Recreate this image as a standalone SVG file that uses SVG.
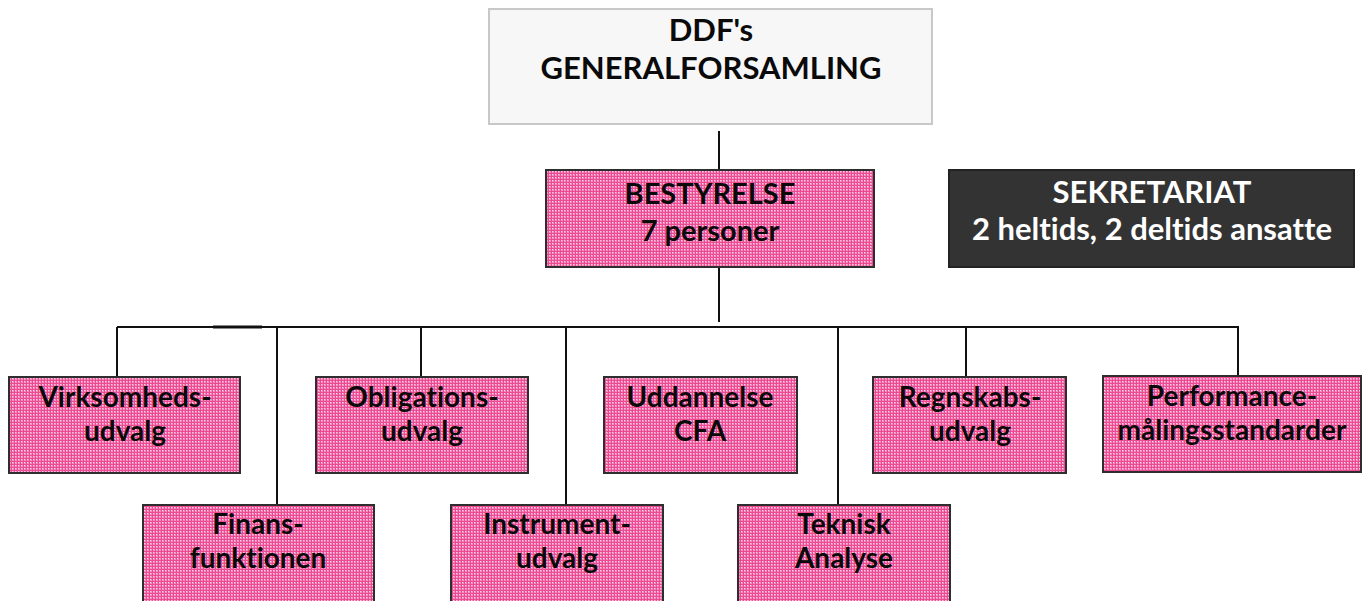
<svg xmlns="http://www.w3.org/2000/svg" width="1367" height="601" viewBox="0 0 1367 601">
<defs>
<pattern id="dither" width="3" height="3" patternUnits="userSpaceOnUse">
<rect width="3" height="3" fill="#ec4a93"/>
<rect x="0" y="0" width="2" height="2" fill="#f58fbd"/>
<rect x="0" y="0" width="1" height="1" fill="#ffd0e5"/>
</pattern>
</defs>
<style>
.pink{fill:url(#dither);stroke:#2e2e2e;stroke-width:2}
.t{font-family:Lato,"Open Sans","Liberation Sans",sans-serif;font-weight:bold;font-size:28px;fill:#0a0a0a;text-anchor:middle;font-variant-ligatures:none}
.h{font-size:31px}
.b{font-size:29px}
.w{fill:#fff}
.c{stroke:#111;stroke-width:2;fill:none}
</style>
<g id="connectors">
<line class="c" x1="719" y1="131" x2="719" y2="170"/>
<line class="c" x1="719" y1="268" x2="719" y2="322"/>
<line class="c" x1="117" y1="327" x2="1239" y2="327"/>
<line x1="213" y1="327" x2="262" y2="327" stroke="#111" stroke-width="3"/>
<line class="c" x1="117" y1="327" x2="117" y2="377"/>
<line class="c" x1="277" y1="327" x2="277" y2="505"/>
<line class="c" x1="421" y1="327" x2="421" y2="377"/>
<line class="c" x1="566" y1="327" x2="566" y2="505"/>
<line class="c" x1="838" y1="327" x2="838" y2="505"/>
<line class="c" x1="966" y1="327" x2="966" y2="377"/>
<line class="c" x1="1238" y1="327" x2="1238" y2="376"/>
</g>
<g id="generalforsamling">
<rect x="489" y="9" width="443" height="115" fill="#f7f7f7" stroke="#c8c8c8" stroke-width="2"/>
<text class="t h" x="711" y="41">DDF's</text>
<text class="t h" x="711" y="79">GENERALFORSAMLING</text>
</g>
<g id="bestyrelse">
<rect class="pink" x="546" y="170" width="328" height="97" stroke="#444" stroke-width="3"/>
<text class="t b" x="710" y="204">BESTYRELSE</text>
<text class="t b" x="710" y="241">7 personer</text>
</g>
<g id="sekretariat">
<rect x="949" y="170" width="405" height="97" fill="#333" stroke="#222" stroke-width="2"/>
<text class="t h w" x="1152" y="203">SEKRETARIAT</text>
<text class="t h w" x="1152" y="240">2 heltids, 2 deltids ansatte</text>
</g>
<g id="virksomhedsudvalg">
<rect class="pink" x="9" y="377" width="231" height="96"/>
<text class="t" x="125" y="407">Virksomheds-</text>
<text class="t" x="125" y="441">udvalg</text>
</g>
<g id="obligationsudvalg">
<rect class="pink" x="316" y="377" width="212" height="96"/>
<text class="t" x="422" y="407">Obligations-</text>
<text class="t" x="422" y="441">udvalg</text>
</g>
<g id="uddannelse">
<rect class="pink" x="604" y="377" width="193" height="96"/>
<text class="t" x="700" y="407">Uddannelse</text>
<text class="t" x="700" y="441">CFA</text>
</g>
<g id="regnskabsudvalg">
<rect class="pink" x="873" y="377" width="193" height="96"/>
<text class="t" x="970" y="407">Regnskabs-</text>
<text class="t" x="970" y="441">udvalg</text>
</g>
<g id="performance">
<rect class="pink" x="1103" y="376" width="258" height="96"/>
<text class="t" x="1232" y="406">Performance-</text>
<text class="t" x="1232" y="440">målingsstandarder</text>
</g>
<g id="finansfunktionen">
<rect class="pink" x="143" y="505" width="231" height="110"/>
<text class="t" x="258" y="534">Finans-</text>
<text class="t" x="258" y="568">funktionen</text>
</g>
<g id="instrumentudvalg">
<rect class="pink" x="451" y="505" width="212" height="110"/>
<text class="t" x="557" y="534">Instrument-</text>
<text class="t" x="557" y="568">udvalg</text>
</g>
<g id="teknisk">
<rect class="pink" x="738" y="505" width="212" height="110"/>
<text class="t" x="844" y="534">Teknisk</text>
<text class="t" x="844" y="568">Analyse</text>
</g>
</svg>
